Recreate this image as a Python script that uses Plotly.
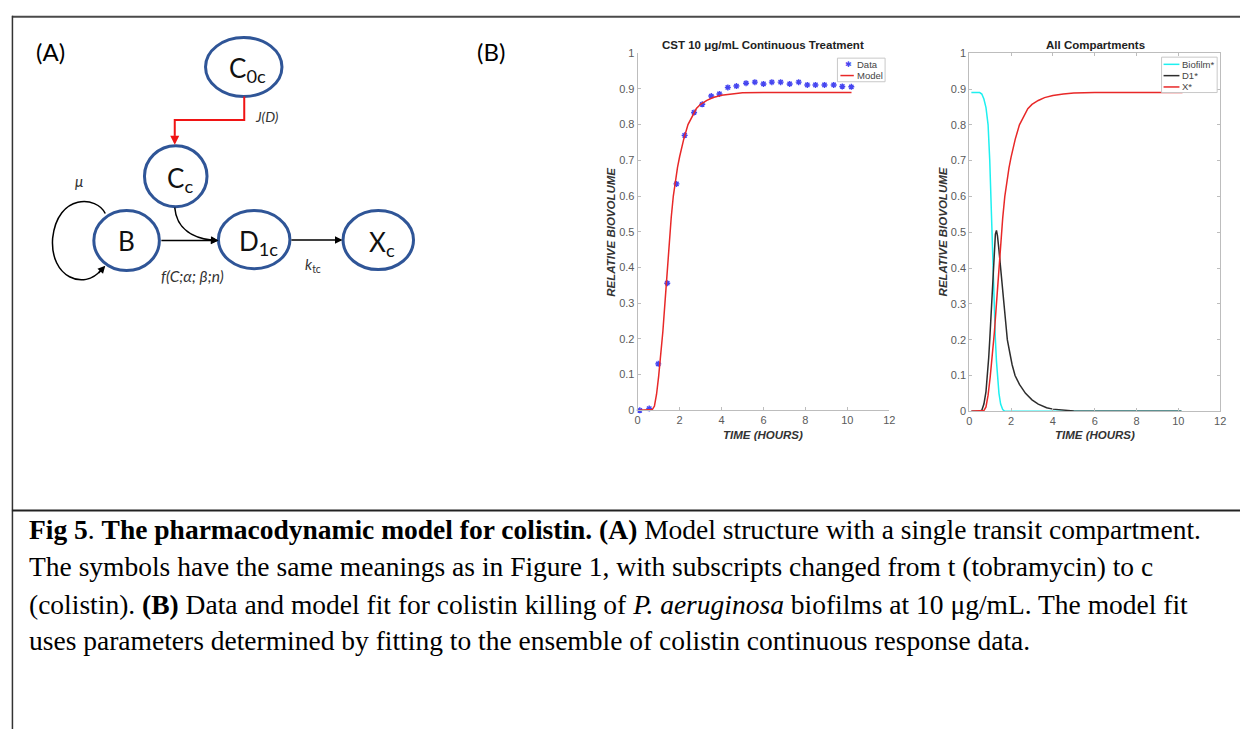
import plotly.graph_objects as go

W, H = 1246, 735

# ---------------- data ----------------
data_time = [0.1, 0.55, 0.98, 1.41, 1.85, 2.24, 2.69, 3.08, 3.51, 3.90, 4.30, 4.71, 5.17,
             5.59, 6.0, 6.40, 6.82, 7.25, 7.68, 8.09, 8.48, 8.91, 9.35, 9.76, 10.19]
data_biovolume = [0.0, 0.005, 0.13, 0.356, 0.634, 0.770, 0.834, 0.857, 0.880, 0.886, 0.904,
                  0.908, 0.916, 0.919, 0.914, 0.919, 0.919, 0.914, 0.919, 0.911, 0.911,
                  0.911, 0.911, 0.907, 0.906]

model_time = [0.1, 0.5, 0.7, 0.8, 0.9, 1.0, 1.1, 1.2, 1.3, 1.4, 1.5, 1.6, 1.7, 1.8, 1.9,
              2.0, 2.2, 2.4, 2.6, 2.8, 3.0, 3.3, 3.6, 4.0, 4.5, 5.0, 6.0, 8.0, 10.2]
model_biovolume = [0.0, 0.0, 0.002, 0.012, 0.045, 0.095, 0.15, 0.22, 0.30, 0.385, 0.47,
                   0.54, 0.60, 0.645, 0.68, 0.71, 0.76, 0.80, 0.825, 0.845, 0.857, 0.868,
                   0.876, 0.882, 0.886, 0.889, 0.89, 0.89, 0.89]

biofilm_time = [0.1, 0.5, 0.6, 0.7, 0.8, 0.9, 0.98, 1.03, 1.08, 1.14, 1.19, 1.25, 1.3,
                1.35, 1.42, 1.5, 1.6, 1.7, 2.0, 10.15]
biofilm_value = [0.89, 0.89, 0.886, 0.872, 0.848, 0.80, 0.70, 0.60, 0.50, 0.40, 0.30,
                 0.20, 0.14, 0.10, 0.05, 0.02, 0.005, 0.0, 0.0, 0.0]

d1_time = [0.1, 0.5, 0.6, 0.7, 0.8, 0.87, 0.93, 0.98, 1.02, 1.06, 1.10, 1.14, 1.20, 1.25,
           1.30, 1.35, 1.42, 1.51, 1.58, 1.66, 1.74, 1.82, 1.95, 2.05, 2.19, 2.4, 2.69,
           3.0, 3.3, 3.7, 4.0, 4.5, 5.0, 6.0, 10.15]
d1_value = [0, 0, 0.003, 0.02, 0.055, 0.10, 0.15, 0.20, 0.25, 0.30, 0.35, 0.40, 0.46,
            0.495, 0.505, 0.49, 0.45, 0.40, 0.35, 0.30, 0.25, 0.20, 0.16, 0.13, 0.10,
            0.075, 0.05, 0.032, 0.02, 0.01, 0.006, 0.003, 0.001, 0, 0]

x_ticks = [0, 2, 4, 6, 8, 10, 12]
y_ticks = [0, 0.1, 0.2, 0.3, 0.4, 0.5, 0.6, 0.7, 0.8, 0.9, 1]
y_tick_labels = ["0", "0.1", "0.2", "0.3", "0.4", "0.5", "0.6", "0.7", "0.8", "0.9", "1"]

title_left = "CST 10 μg/mL Continuous Treatment"
title_right = "All Compartments"
legend_left = ["Data", "Model"]
legend_right = ["Biofilm*", "D1*", "X*"]

# ---------------- styles ----------------
BLUE = "rgb(70,70,240)"
RED = "rgb(232,40,40)"
CYAN = "rgb(30,240,240)"
BLACK = "rgb(45,45,45)"
AX = "#bdbdbd"
TICKF = dict(family="Liberation Sans, Arial", size=11, color="#5a5a5a")
NODE = "rgb(47,85,151)"
SANS = "Lato, Open Sans, sans-serif"
SERIF = "Liberation Serif, Times New Roman, serif"

fig = go.Figure()

fig.add_trace(go.Scatter(x=data_time, y=data_biovolume, mode="markers", xaxis="x", yaxis="y",
                         marker=dict(symbol="asterisk-open", size=5, color=BLUE,
                                     line=dict(color=BLUE, width=1.4)),
                         cliponaxis=False, showlegend=False))
fig.add_trace(go.Scatter(x=model_time, y=model_biovolume, mode="lines", xaxis="x", yaxis="y",
                         line=dict(color=RED, width=1.5), showlegend=False))

fig.add_trace(go.Scatter(x=biofilm_time, y=biofilm_value, mode="lines", xaxis="x2", yaxis="y2",
                         line=dict(color=CYAN, width=1.5), showlegend=False))
fig.add_trace(go.Scatter(x=d1_time, y=d1_value, mode="lines", xaxis="x2", yaxis="y2",
                         line=dict(color=BLACK, width=1.5), showlegend=False))
fig.add_trace(go.Scatter(x=model_time, y=model_biovolume, mode="lines", xaxis="x2", yaxis="y2",
                         line=dict(color=RED, width=1.5), showlegend=False))


def ax_common(**kw):
    d = dict(showgrid=False, zeroline=False, showline=True, linecolor=AX, linewidth=1,
             ticks="inside", ticklen=3, tickcolor=AX, tickfont=TICKF, fixedrange=True)
    d.update(kw)
    return d


fig.update_layout(
    width=W, height=H, margin=dict(l=0, r=0, t=0, b=0),
    paper_bgcolor="white", plot_bgcolor="rgba(0,0,0,0)", showlegend=False,
    xaxis=ax_common(domain=[639.3 / W, 892.7 / W], range=[0, 12], tickvals=x_ticks,
                    anchor="y"),
    yaxis=ax_common(domain=[1 - 411 / H, 1 - 48 / H], range=[0, 1], tickvals=y_ticks,
                    ticktext=y_tick_labels, anchor="x"),
    xaxis2=ax_common(domain=[973.3 / W, 1226 / W], range=[0, 12], tickvals=x_ticks,
                     anchor="y2", mirror="ticks"),
    yaxis2=ax_common(domain=[1 - 412 / H, 1 - 48 / H], range=[0, 1], tickvals=y_ticks,
                     ticktext=y_tick_labels, anchor="x2", mirror="ticks"),
    xaxis3=dict(domain=[0, 1], range=[0, W], visible=False, anchor="y3", fixedrange=True),
    yaxis3=dict(domain=[0, 1], range=[H, 0], visible=False, anchor="x3", fixedrange=True),
)

shapes = []
ann = []


def line(x0, y0, x1, y1, color, width):
    shapes.append(dict(type="line", xref="x3", yref="y3", x0=x0, y0=y0, x1=x1, y1=y1,
                       line=dict(color=color, width=width)))


def text(x, y, s, size, color="black", family=SANS, xanchor="center", angle=0):
    ann.append(dict(xref="x3", yref="y3", x=x, y=y, text=s, showarrow=False,
                    font=dict(family=family, size=size, color=color),
                    xanchor=xanchor, yanchor="middle", textangle=angle))


def arrow(x0, y0, x1, y1, color, width=1.5, size=1.0):
    ann.append(dict(xref="x3", yref="y3", axref="x3", ayref="y3", x=x1, y=y1, ax=x0, ay=y0,
                    text="", showarrow=True, arrowhead=2, arrowsize=size, arrowwidth=width,
                    arrowcolor=color, standoff=0, startstandoff=0))


# frame
line(9, 11, W, 11, "#4a4a4a", 2)
line(9.5, 10, 9.5, H, "#333333", 1.5)
line(9, 513, W, 513, "#222222", 2)

# ---------------- panel A diagram ----------------
text(48, 46, "(A)", 24)
text(492, 46, "(B)", 24)

nodes = [(242.5, 62, 38.5, 30, "C<sub>0c</sub>"),
         (174, 173, 31.5, 31, "C<sub>c</sub>"),
         (124.5, 238.5, 33, 30.5, "B"),
         (253, 237.5, 36, 29.5, "D<sub>1c</sub>"),
         (378, 238, 35.5, 30, "X<sub>c</sub>")]
for cx, cy, rx, ry, lab in nodes:
    shapes.append(dict(type="circle", xref="x3", yref="y3", x0=cx - rx, x1=cx + rx,
                       y0=cy - ry, y1=cy + ry, line=dict(color=NODE, width=3),
                       fillcolor="rgba(0,0,0,0)"))
    text(cx + (4 if "<sub>" in lab else 0), cy + (3 if "<sub>" in lab else 0), lab, 26, "#111")

# red J(D) connector
shapes.append(dict(type="path", xref="x3", yref="y3",
                   path="M 243,92 L 243,116 L 173,116 L 173,132",
                   line=dict(color="rgb(240,20,20)", width=2)))
arrow(173, 130, 173, 141, "rgb(240,20,20)", 2, 0.9)
text(266, 112, "<i>J(D)</i>", 14, "#333")

# self loop on B
shapes.append(dict(type="path", xref="x3", yref="y3",
                   path="M 103,211 C 95,193 55,190 50,236 C 47,276 82,290 99,268",
                   line=dict(color="black", width=1.5)))
arrow(95, 273, 103, 264, "black", 1.5, 1)
text(77, 178, "<i>μ</i>", 15, "#333")

# Cc -> D1 curve
shapes.append(dict(type="path", xref="x3", yref="y3",
                   path="M 173,205 C 175,228 193,236 210,238",
                   line=dict(color="black", width=1.5)))
arrow(206, 237.7, 217, 238.5, "black", 1.5, 1)

# straight arrows
arrow(158, 238.5, 217, 238.5, "black", 1.5, 1)
arrow(289, 238, 342, 238, "black", 1.5, 1)

text(191, 274, "<i>f(C;α; β;n)</i>", 15.5, "#333")
text(312, 263, "<i>k</i><sub>tc</sub>", 15, "#333")

# ---------------- panel B text ----------------
bold = "Liberation Sans, Arial"
text(766, 40, "<b>" + title_left + "</b>", 11.5, "#222", bold)
text(1100, 40, "<b>" + title_right + "</b>", 11.5, "#222", bold)
text(766, 436, "<b><i>TIME (HOURS)</i></b>", 11.5, "#333", bold)
text(1100, 436, "<b><i>TIME (HOURS)</i></b>", 11.5, "#333", bold)
text(613, 230, "<b><i>RELATIVE BIOVOLUME</i></b>", 11.5, "#333", bold, angle=-90)
text(947, 230, "<b><i>RELATIVE BIOVOLUME</i></b>", 11.5, "#333", bold, angle=-90)

# legend left
shapes.append(dict(type="rect", xref="x3", yref="y3", x0=840.5, x1=888.5, y0=53, y1=77,
                   line=dict(color="#c8c8c8", width=1), fillcolor="white"))
text(852, 59.3, "✱", 8, BLUE, "DejaVu Sans")
text(858.5, 59.3, legend_left[0], 9.5, "#444", bold, "left")
line(843.5, 70.7, 857, 70.7, RED, 1.5)
text(858.5, 70.7, legend_left[1], 9.5, "#444", bold, "left")

# legend right
shapes.append(dict(type="rect", xref="x3", yref="y3", x0=1167, x1=1223, y0=52, y1=88,
                   line=dict(color="#c8c8c8", width=1), fillcolor="white"))
for i, (lab, col) in enumerate(zip(legend_right, [CYAN, BLACK, RED])):
    yy = 59.3 + i * 11.5
    line(1169, yy, 1185, yy, col, 1.5)
    text(1186, yy, lab, 9.5, "#444", bold, "left")

# ---------------- caption ----------------
cap = [
    "<b>Fig 5</b>. <b>The pharmacodynamic model for colistin. (A)</b> Model structure with a single transit compartment.",
    "The symbols have the same meanings as in Figure 1, with subscripts changed from t (tobramycin) to c",
    "(colistin). <b>(B)</b> Data and model fit for colistin killing of <i>P. aeruginosa</i> biofilms at 10 μg/mL. The model fit",
    "uses parameters determined by fitting to the ensemble of colistin continuous response data.",
]
for s, yy in zip(cap, [532, 570, 608, 645]):
    text(24, yy, s, 27.5, "black", SERIF, "left")

fig.update_layout(shapes=shapes, annotations=ann)
fig.write_html("out.html")
